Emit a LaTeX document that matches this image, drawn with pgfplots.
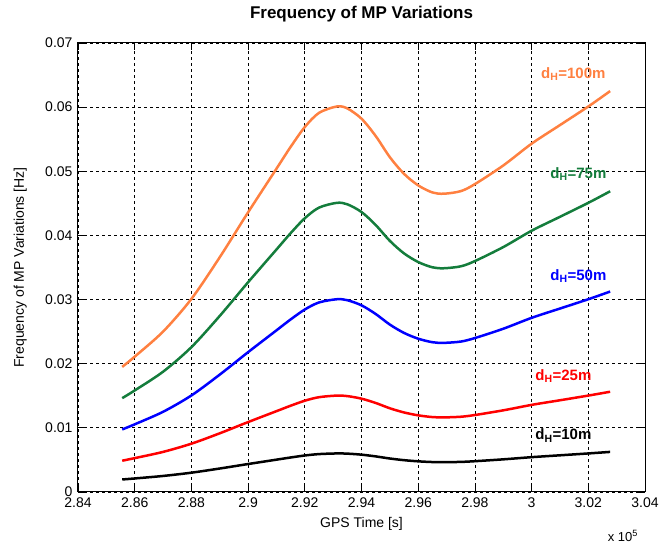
\documentclass[border=0pt]{standalone}
\usepackage{fontspec}
\setmainfont{Liberation Sans}
\usepackage{pgfplots}
\usepackage{pgfplotstable}
\pgfplotsset{compat=1.18}

\definecolor{mporange}{RGB}{255,128,64}
\definecolor{mpgreen}{RGB}{20,125,60}

% x in units of 1e5 s; columns: d_H = 100, 75, 50, 25, 10 m
\pgfplotstableread{
x       o        g        b        r        k
2.8556  0.0195   0.01463  0.00975  0.00488  0.00195
2.86    0.0211   0.01583  0.01055  0.00528  0.00211
2.87    0.0250   0.01875  0.01250  0.00625  0.00250
2.88    0.0301   0.02258  0.01505  0.00753  0.00301
2.89    0.0366   0.02745  0.01830  0.00915  0.00366
2.90    0.0436   0.03270  0.02180  0.01090  0.00436
2.91    0.0504   0.03780  0.02520  0.01260  0.00504
2.915   0.0538   0.04035  0.02690  0.01345  0.00538
2.92    0.0569   0.04268  0.02845  0.01423  0.00569
2.925   0.0591   0.04433  0.02955  0.01478  0.00591
2.9313  0.0601   0.04508  0.03005  0.01503  0.00601
2.935   0.0598   0.04485  0.02990  0.01495  0.00598
2.94    0.0582   0.04365  0.02910  0.01455  0.00582
2.945   0.0555   0.04163  0.02775  0.01388  0.00555
2.95    0.0522   0.03915  0.02610  0.01305  0.00522
2.955   0.0496   0.03720  0.02480  0.01240  0.00496
2.96    0.0478   0.03585  0.02390  0.01195  0.00478
2.965   0.0467   0.03503  0.02335  0.01168  0.00467
2.969   0.0465   0.03488  0.02325  0.01163  0.00465
2.975   0.0469   0.03518  0.02345  0.01173  0.00469
2.98    0.0480   0.03600  0.02400  0.01200  0.00480
2.99    0.0509   0.03818  0.02545  0.01273  0.00509
3.00    0.0543   0.04073  0.02715  0.01358  0.00543
3.01    0.0572   0.04290  0.02860  0.01430  0.00572
3.02    0.0601   0.04508  0.03005  0.01503  0.00601
3.0277  0.0625   0.04688  0.03125  0.01563  0.00625
}\mpdata

\begin{document}
\begin{tikzpicture}
\begin{axis}[
    scale only axis,
    width=567pt, height=449pt,
    xmin=2.84, xmax=3.04,
    ymin=0, ymax=0.07,
    clip=false,
    scaled x ticks=false, scaled y ticks=false,
    xtick={2.84,2.86,2.88,2.90,2.92,2.94,2.96,2.98,3.00,3.02,3.04},
    xticklabels={2.84,2.86,2.88,2.9,2.92,2.94,2.96,2.98,3,3.02,3.04},
    ytick={0,0.01,0.02,0.03,0.04,0.05,0.06,0.07},
    yticklabels={0,0.01,0.02,0.03,0.04,0.05,0.06,0.07},
    tick align=inside,
    major tick length=7pt,
    grid=major,
    major grid style={black, dash pattern=on 3pt off 3pt, line width=0.8pt},
    axis line style={black, line width=1pt},
    tick style={black, line width=0.8pt},
    tick label style={font=\fontsize{14}{16}\selectfont},
    xticklabel style={yshift=-2pt},
    yticklabel style={xshift=-2pt},
    xlabel={GPS Time [s]},
    ylabel={Frequency of MP Variations [Hz]},
    label style={font=\fontsize{14}{16}\selectfont},
    xlabel style={at={(axis description cs:0.5,-0.0713)}, anchor=center},
    ylabel style={at={(axis description cs:-0.102,0.5)}, anchor=center},
    title={Frequency of MP Variations},
    title style={font=\fontsize{17}{20}\selectfont\bfseries,
                 at={(axis description cs:0.5,1.05)}, anchor=center},
    every axis plot/.append style={line width=2.5pt, smooth},
]
\addplot[mporange] table[x=x, y=o] {\mpdata};
\addplot[mpgreen]  table[x=x, y=g] {\mpdata};
\addplot[blue]     table[x=x, y=b] {\mpdata};
\addplot[red]      table[x=x, y=r] {\mpdata};
\addplot[black]    table[x=x, y=k] {\mpdata};

\node[mporange, font=\fontsize{15}{17}\selectfont\bfseries] at (axis cs:3.0147,0.0652) {d\textsubscript{H}=100m};
\node[mpgreen,  font=\fontsize{15}{17}\selectfont\bfseries] at (axis cs:3.0165,0.0496) {d\textsubscript{H}=75m};
\node[blue,     font=\fontsize{15}{17}\selectfont\bfseries] at (axis cs:3.0165,0.0337) {d\textsubscript{H}=50m};
\node[red,      font=\fontsize{15}{17}\selectfont\bfseries] at (axis cs:3.0112,0.0181) {d\textsubscript{H}=25m};
\node[black,    font=\fontsize{15}{17}\selectfont\bfseries] at (axis cs:3.0112,0.0088) {d\textsubscript{H}=10m};

\node[font=\fontsize{13}{15}\selectfont] at (axis description cs:0.961,-0.098) {x 10\textsuperscript{5}};

\coordinate (bl) at (rel axis cs:0,0);
\coordinate (tr) at (rel axis cs:1,1);
\end{axis}
\pgfresetboundingbox
\path ([shift={(-78pt,-51pt)}]bl) rectangle ([shift={(15pt,43pt)}]tr);
\end{tikzpicture}
\end{document}
